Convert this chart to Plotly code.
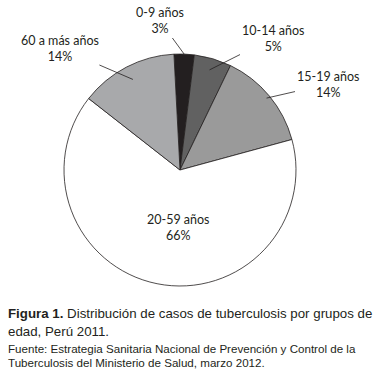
import math
import plotly.graph_objects as go

# ---- data ----
labels = ["0-9 años", "10-14 años", "15-19 años", "20-59 años", "60 a más años"]
values = [2.8, 5.2, 13.6, 64.8, 13.6]
shown_pct = ["3%", "5%", "14%", "66%", "14%"]
colors = ["#231f20", "#616161", "#9a9a9a", "#ffffff", "#a8a9ab"]

W, H = 387, 376
start_deg = -3
# pie geometry in pixels (center, radius)
cx, cy, R = 180, 170, 116

fig = go.Figure(go.Pie(
    labels=labels, values=values, sort=False, direction="clockwise",
    rotation=start_deg, textinfo="none", hoverinfo="label+percent",
    marker=dict(colors=colors, line=dict(color="#231f20", width=0.8)),
    domain=dict(x=[(cx - R) / W, (cx + R) / W], y=[1 - (cy + R) / H, 1 - (cy - R) / H]),
    showlegend=False,
))

# label placement: (text center px x, y), radius factor of leader tip, arrow?
label_pos = [(160, 21, 1.0, True), (273, 38, 0.9, True), (328, 84, 0.97, True),
             (178, 227, 0, False), (60, 48, 0.88, True)]

total = sum(values)
acc = 0
font = dict(family="Lato", size=12.5, color="#231f20")
for lab, val, pct, (tx, ty, rf, arrow) in zip(labels, values, shown_pct, label_pos):
    mid = start_deg + (acc + val / 2) / total * 360
    acc += val
    text = f"{lab}<br>{pct}"
    if arrow:
        a = math.radians(mid)
        px = cx + rf * R * math.sin(a)
        py = cy - rf * R * math.cos(a)
        fig.add_annotation(x=px / W, y=1 - py / H, xref="paper", yref="paper",
                           text=text, showarrow=True, arrowhead=0, arrowwidth=0.8,
                           arrowcolor="#231f20", ax=tx - px, ay=ty - py,
                           font=font, align="center")
    else:
        fig.add_annotation(x=tx / W, y=1 - ty / H, xref="paper", yref="paper",
                           text=text, showarrow=False, font=font, align="center")

cap_font = dict(family="Liberation Sans, Arial", size=13.3, color="#231f20")
src_font = dict(family="Liberation Sans, Arial", size=11.6, color="#231f20")
captions = [
    ("<b>Figura 1.</b> Distribución de casos de tuberculosis por grupos de", 313, cap_font),
    ("edad, Perú 2011.", 331, cap_font),
    ("Fuente: Estrategia Sanitaria Nacional de Prevención y Control de la", 348, src_font),
    ("Tuberculosis del Ministerio de Salud, marzo 2012.", 362, src_font),
]
for txt, y, f in captions:
    fig.add_annotation(x=6 / W, y=1 - y / H, xref="paper", yref="paper", text=txt,
                       showarrow=False, xanchor="left", yanchor="middle", font=f)

fig.update_layout(width=W, height=H, margin=dict(l=0, r=0, t=0, b=0),
                  paper_bgcolor="white", plot_bgcolor="white")
fig.write_html("out.html", config={"displayModeBar": False},
               post_script="document.body.style.margin='0';")
